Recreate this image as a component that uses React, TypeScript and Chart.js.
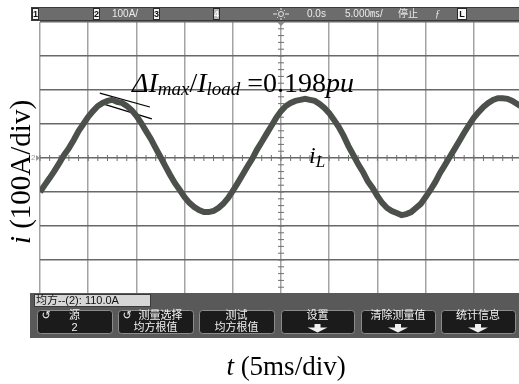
import React, { useEffect, useRef } from "react";
import { Chart, registerables } from "chart.js";

Chart.register(...registerables);

// time axis in ms (5 ms/div, trigger at 0)
const timeMs = [
  -25, -24.5, -24, -23.5, -23, -22.5, -22, -21.5, -21, -20.5,
  -20, -19.5, -19, -18.5, -18, -17.5, -17, -16.5, -16, -15.5,
  -15, -14.5, -14, -13.5, -13, -12.5, -12, -11.5, -11, -10.5,
  -10, -9.5, -9, -8.5, -8, -7.5, -7, -6.5, -6, -5.5,
  -5, -4.5, -4, -3.5, -3, -2.5, -2, -1.5, -1, -0.5,
  0, 0.5, 1, 1.5, 2, 2.5, 3, 3.5, 4, 4.5,
  5, 5.5, 6, 6.5, 7, 7.5, 8, 8.5, 9, 9.5,
  10, 10.5, 11, 11.5, 12, 12.5, 13, 13.5, 14, 14.5,
  15, 15.5, 16, 16.5, 17, 17.5, 18, 18.5, 19, 19.5,
  20, 20.5, 21, 21.5, 22, 22.5, 23, 23.5, 24, 24.5, 25,
];

// inductor current i_L in A (100 A/div)
const currentA = [
  -100, -79, -59, -38, -15, 9, 29, 53, 79, 100,
  121, 138, 153, 162, 168, 171, 165, 162, 153, 141,
  124, 103, 79, 56, 29, 3, -24, -50, -74, -94,
  -115, -132, -144, -153, -159, -159, -156, -147, -135, -118,
  -97, -74, -50, -26, -3, 24, 47, 71, 94, 118,
  138, 153, 162, 168, 171, 174, 171, 168, 159, 147,
  132, 112, 91, 65, 35, 9, -18, -41, -68, -88,
  -112, -132, -147, -156, -162, -168, -165, -159, -147, -135,
  -115, -94, -71, -44, -21, 3, 26, 50, 74, 97,
  118, 135, 150, 162, 171, 176, 176, 174, 168, 159, 150,
];

// tangent marker lines at first peak (ms, A)
const tangentUpperT = [-18.8, -13.6];
const tangentUpperA = [191, 150];
const tangentLowerT = [-18.8, -13.4];
const tangentLowerA = [162, 115];

const xMin = -25;
const xMax = 25;
const xStep = 5;
const yMin = -400;
const yMax = 400;
const yStep = 100;

const yTitleItalic = "i";
const yTitleRest = " (100A/div)";
const xTitleItalic = "t";
const xTitleRest = " (5ms/div)";
const traceLabel = "i";
const traceLabelSub = "L";

const topBarChannel2 = "100A/";
const topBarDelay = "0.0s";
const topBarTimebase = "5.000㎳/";
const topBarState = "停止";
const statusText = "均方--(2): 110.0A";
const softkeys = [
  { icon: true, l1: "源", l2: "2", arrow: false },
  { icon: true, l1: "测量选择", l2: "均方根值", arrow: false },
  { icon: false, l1: "测试", l2: "均方根值", arrow: false },
  { icon: false, l1: "设置", l2: "", arrow: true },
  { icon: false, l1: "清除测量值", l2: "", arrow: true },
  { icon: false, l1: "统计信息", l2: "", arrow: true },
];

const SERIF = '"Liberation Serif", "Times New Roman", serif';
const SANS = '"Liberation Sans", Arial, sans-serif';
const CJK = '"Liberation Sans", "Noto Sans CJK SC", sans-serif';

type Run = { text: string; font: string; dy?: number };

function runsWidth(ctx: CanvasRenderingContext2D, runs: Run[]) {
  let w = 0;
  for (const r of runs) {
    ctx.font = r.font;
    w += ctx.measureText(r.text).width;
  }
  return w;
}
function drawRuns(ctx: CanvasRenderingContext2D, x: number, y: number, runs: Run[]) {
  let cx = x;
  for (const r of runs) {
    ctx.font = r.font;
    ctx.fillText(r.text, cx, y + (r.dy || 0));
    cx += ctx.measureText(r.text).width;
  }
}

function box(ctx: CanvasRenderingContext2D, x: number, y: number, w: number, h: number, bg: string, fg: string, t: string) {
  ctx.fillStyle = bg;
  ctx.fillRect(x, y, w, h);
  ctx.strokeStyle = "#2a2a2a";
  ctx.lineWidth = 1;
  ctx.strokeRect(x + 0.5, y + 0.5, w - 1, h - 1);
  ctx.fillStyle = fg;
  ctx.font = "bold 9px " + SANS;
  ctx.textAlign = "center";
  ctx.textBaseline = "middle";
  ctx.fillText(t, x + w / 2, y + h / 2 + 0.5);
  ctx.textAlign = "left";
  ctx.textBaseline = "alphabetic";
}

const scopePlugin = {
  id: "scope",
  beforeDatasetsDraw(chart: any) {
    const ctx: CanvasRenderingContext2D = chart.ctx;
    const xs = chart.scales.x;
    const ys = chart.scales.y;
    const cx = xs.getPixelForValue(0);
    const cy = ys.getPixelForValue(0);
    ctx.save();
    ctx.strokeStyle = "#707070";
    ctx.lineWidth = 1;
    for (let t = xMin; t <= xMax; t += 1) {
      const px = xs.getPixelForValue(t);
      ctx.beginPath();
      ctx.moveTo(px, cy - 3);
      ctx.lineTo(px, cy + 3);
      ctx.stroke();
    }
    for (let v = yMin; v <= yMax; v += 20) {
      const py = ys.getPixelForValue(v);
      ctx.beginPath();
      ctx.moveTo(cx - 3, py);
      ctx.lineTo(cx + 3, py);
      ctx.stroke();
    }
    ctx.restore();
  },
  afterDraw(chart: any) {
    const ctx: CanvasRenderingContext2D = chart.ctx;
    const xs = chart.scales.x;
    const ys = chart.scales.y;
    const ca = chart.chartArea;
    ctx.save();

    // ---- top status bar ----
    ctx.fillStyle = "#6c6c6c";
    ctx.fillRect(31, 7, 492, 14);
    ctx.strokeStyle = "#3a3a3a";
    ctx.lineWidth = 1;
    ctx.strokeRect(31.5, 7.5, 492, 13);
    box(ctx, 32, 8, 7, 12, "#f4f4f4", "#111", "1");
    box(ctx, 93, 8, 7, 12, "#f4f4f4", "#111", "2");
    box(ctx, 153, 8, 7, 12, "#f4f4f4", "#111", "3");
    box(ctx, 213, 8, 7, 12, "#b9b9b9", "#f4f4f4", "4");
    box(ctx, 457, 8, 10, 12, "#f8f8f8", "#111", "L");
    ctx.fillStyle = "#ececec";
    ctx.font = "10px " + SANS;
    ctx.textBaseline = "middle";
    ctx.fillText(topBarChannel2, 112, 14.5);
    ctx.fillText(topBarDelay, 307, 14.5);
    ctx.font = "10px " + CJK;
    ctx.fillText(topBarTimebase, 345, 14.5);
    ctx.fillText(topBarState, 398, 14.5);
    ctx.font = "italic 10px " + SERIF;
    ctx.fillText("ƒ", 435, 14.5);
    // sun (acquisition) icon
    const sx = xs.getPixelForValue(0);
    ctx.strokeStyle = "#e6e6e6";
    ctx.lineWidth = 1;
    ctx.beginPath();
    ctx.arc(sx, 14, 2.5, 0, Math.PI * 2);
    ctx.stroke();
    for (let k = 0; k < 8; k++) {
      const a = (k * Math.PI) / 4;
      ctx.beginPath();
      ctx.moveTo(sx + Math.cos(a) * 4, 14 + Math.sin(a) * 4);
      ctx.lineTo(sx + Math.cos(a) * (k % 2 ? 5.5 : 8), 14 + Math.sin(a) * (k % 2 ? 5.5 : 6));
      ctx.stroke();
    }
    ctx.textBaseline = "alphabetic";
    // trigger marker
    ctx.fillStyle = "#8a8a8a";
    ctx.beginPath();
    ctx.moveTo(sx - 4, ca.top);
    ctx.lineTo(sx + 4, ca.top);
    ctx.lineTo(sx, ca.top + 4);
    ctx.closePath();
    ctx.fill();

    // ground marker for channel 2
    const gy = ys.getPixelForValue(0);
    ctx.fillStyle = "#9a9a9a";
    ctx.font = "8px " + SANS;
    ctx.textBaseline = "middle";
    ctx.fillText("2", 31, gy);
    ctx.beginPath();
    ctx.moveTo(36, gy - 3);
    ctx.lineTo(40, gy);
    ctx.lineTo(36, gy + 3);
    ctx.closePath();
    ctx.fill();
    ctx.textBaseline = "alphabetic";

    // ---- bottom softkey area ----
    ctx.fillStyle = "#595959";
    ctx.fillRect(30, 293, 495, 45);
    ctx.fillStyle = "#d6d6d6";
    ctx.fillRect(34, 294, 117, 13);
    ctx.strokeStyle = "#3a3a3a";
    ctx.strokeRect(34.5, 294.5, 116, 12);
    ctx.fillStyle = "#111";
    ctx.font = "11px " + CJK;
    ctx.textBaseline = "middle";
    ctx.fillText(statusText, 36, 301);

    const bx = [37, 118, 199, 281, 361, 441];
    const bw = [75, 75, 75, 73, 74, 74];
    softkeys.forEach((k, i) => {
      const x0 = bx[i];
      const w = bw[i];
      ctx.fillStyle = "#1b1b1b";
      ctx.strokeStyle = "#8c8c8c";
      ctx.lineWidth = 1;
      ctx.beginPath();
      (ctx as any).roundRect(x0 + 0.5, 310.5, w, 23, 3);
      ctx.fill();
      ctx.stroke();
      ctx.fillStyle = "#f0f0f0";
      ctx.font = "11px " + CJK;
      ctx.textAlign = "center";
      let mid = x0 + w / 2;
      if (k.icon) {
        ctx.font = "11px DejaVu Sans";
        ctx.fillText("↺", x0 + 9, 316);
        ctx.font = "11px " + CJK;
        if (i === 1) mid = x0 + w / 2 + 5;
      }
      ctx.fillText(k.l1, mid, 316);
      if (k.l2) ctx.fillText(k.l2, x0 + w / 2, 327.5);
      if (k.arrow) {
        const c = x0 + w / 2;
        ctx.fillRect(c - 3, 324, 6, 4);
        ctx.beginPath();
        ctx.moveTo(c - 10, 327.5);
        ctx.lineTo(c + 10, 327.5);
        ctx.lineTo(c, 332.5);
        ctx.closePath();
        ctx.fill();
      }
      ctx.textAlign = "left";
    });
    ctx.textBaseline = "alphabetic";

    // ---- annotation text ----
    ctx.fillStyle = "#000";
    drawRuns(ctx, 132, 92, [
      { text: "Δ", font: "italic 28px " + SERIF },
      { text: "I", font: "italic 28px " + SERIF },
      { text: "max", font: "italic 19px " + SERIF, dy: 3 },
      { text: "/", font: "28px " + SERIF },
      { text: "I", font: "italic 28px " + SERIF },
      { text: "load", font: "italic 19px " + SERIF, dy: 3 },
      { text: " =0.198", font: "28px " + SERIF },
      { text: "pu", font: "italic 28px " + SERIF },
    ]);
    drawRuns(ctx, 309, 163, [
      { text: traceLabel, font: "italic 24px " + SERIF },
      { text: traceLabelSub, font: "italic 17px " + SERIF, dy: 4 },
    ]);

    // x title
    const xr: Run[] = [
      { text: xTitleItalic, font: "italic 27px " + SERIF },
      { text: xTitleRest, font: "27px " + SERIF },
    ];
    const xw = runsWidth(ctx, xr);
    drawRuns(ctx, 286 - xw / 2, 375, xr);

    // y title
    const yr: Run[] = [
      { text: yTitleItalic, font: "italic 29px " + SERIF },
      { text: yTitleRest, font: "29px " + SERIF },
    ];
    const yw = runsWidth(ctx, yr);
    ctx.translate(30, 172);
    ctx.rotate(-Math.PI / 2);
    drawRuns(ctx, -yw / 2, 0, yr);

    ctx.restore();
  },
};

export default function App() {
  const ref = useRef<HTMLCanvasElement | null>(null);
  useEffect(() => {
    if (!ref.current) return;
    const chart = new Chart(ref.current, {
      type: "line",
      data: {
        datasets: [
          {
            label: "iL",
            data: timeMs.map((t, i) => ({ x: t, y: currentA[i] })),
            borderColor: "#4b504b",
            borderWidth: 6,
            pointRadius: 0,
            tension: 0,
          },
          {
            label: "tangent1",
            data: tangentUpperT.map((t, i) => ({ x: t, y: tangentUpperA[i] })),
            borderColor: "#000",
            borderWidth: 1.2,
            pointRadius: 0,
          },
          {
            label: "tangent2",
            data: tangentLowerT.map((t, i) => ({ x: t, y: tangentLowerA[i] })),
            borderColor: "#000",
            borderWidth: 1.2,
            pointRadius: 0,
          },
        ],
      },
      options: {
        animation: false,
        responsive: false,
        maintainAspectRatio: false,
        layout: { padding: { left: 40, right: 3, top: 22, bottom: 90 } },
        plugins: { legend: { display: false }, tooltip: { enabled: false } },
        scales: {
          x: {
            type: "linear",
            min: xMin,
            max: xMax,
            ticks: { display: false, stepSize: xStep },
            grid: { color: "#a3a3a3", lineWidth: 1.5, drawTicks: false },
            border: { display: false },
          },
          y: {
            type: "linear",
            min: yMin,
            max: yMax,
            ticks: { display: false, stepSize: yStep },
            grid: { color: "#686868", lineWidth: 1.5, drawTicks: false },
            border: { display: false },
          },
        },
      },
      plugins: [scopePlugin],
    } as any);
    return () => chart.destroy();
  }, []);
  return (
    <div
      style={{
        position: "fixed",
        left: 0,
        top: 0,
        width: 519,
        height: 384,
        overflow: "hidden",
        background: "#fff",
      }}
    >
      <canvas ref={ref} width={525} height={384} style={{ display: "block", width: 525, height: 384 }} />
    </div>
  );
}
